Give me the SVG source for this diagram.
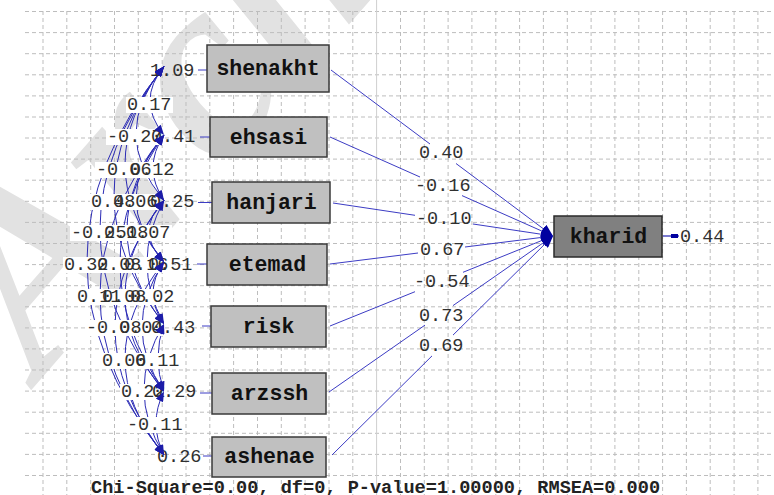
<svg xmlns="http://www.w3.org/2000/svg" width="774" height="495" viewBox="0 0 774 495">
<style>
.grid{fill:none;stroke:#bdbdbd;stroke-width:1;stroke-dasharray:4 3}
.box{fill:#c0c0c0;stroke:#3a3a3a;stroke-width:1.5}
.boxd{fill:#808080;stroke:#2a2a2a;stroke-width:1.5}
.nl{font-family:"Liberation Mono","Courier New",monospace;font-weight:bold;font-size:21.5px;fill:#111;text-anchor:middle}
.num{font-family:"Liberation Mono","Courier New",monospace;font-size:18.5px;fill:#303030}
.path{fill:none;stroke:#3c3cc4;stroke-width:1}
.arc{fill:none;stroke:#2b2bb5;stroke-width:1}
.tip{fill:none;stroke:none;marker-start:url(#ah);marker-end:url(#ah)}
.bg{fill:#ffffff}
.wm{font-family:"Liberation Serif","Times New Roman",serif;font-weight:bold;font-style:italic;font-size:260px;fill:#e2e2e2}
</style>
<defs>
<marker id="ah" viewBox="0 0 10 8" refX="10" refY="4" markerWidth="11" markerHeight="8" markerUnits="userSpaceOnUse" orient="auto-start-reverse"><path d="M0,0L10,4L0,8z" fill="#1c1ca8"/></marker>
<marker id="ahb" viewBox="0 0 12 10" refX="12" refY="5" markerWidth="12" markerHeight="10" markerUnits="userSpaceOnUse" orient="auto"><path d="M0,0L12,5L0,10z" fill="#0000a0"/></marker>
</defs>
<rect x="0" y="0" width="774" height="495" fill="#ffffff"/>
<text class="wm" transform="translate(40,380) rotate(-49)">Arch</text>
<g id="grid">
<path class="grid" d="M25 11.5H774M25 32.6H774M25 53.7H774M25 74.8H774M25 95.9H774M25 117H774M25 138H774M25 159.1H774M25 180.2H774M25 201.3H774M25 222.4H774M25 243.5H774M25 264.6H774M25 285.7H774M25 306.8H774M25 327.9H774M25 348.9H774M25 370H774M25 391.1H774M25 412.2H774M25 433.3H774M25 454.4H774M25 475.5H774"/>
<path class="grid" d="M43 11V495M66.8 11V495M90.7 11V495M114.5 11V495M138.3 11V495M162.2 11V495M186 11V495M209.8 11V495M233.6 11V495M257.5 11V495M281.3 11V495M305.1 11V495M329 11V495M352.8 11V495M400.5 11V495M424.3 11V495M448.1 11V495M471.9 11V495M495.8 11V495M519.6 11V495M543.4 11V495M567.3 11V495M591.1 11V495M614.9 11V495M638.8 11V495M662.6 11V495M686.4 11V495M710.2 11V495M734.1 11V495M757.9 11V495"/>
<path d="M376.6 0V495" stroke="#cfcfcf" stroke-width="1" fill="none"/>
</g>
<g id="covariance-arcs">
<path class="arc" d="M164,66.5 Q136,100.75 164,135"/>
<path class="arc" d="M164,66.5 Q108,133.5 164,200.5"/>
<path class="arc" d="M164,66.5 Q86,164.25 164,262"/>
<path class="arc" d="M164,66.5 Q64,195.25 164,324"/>
<path class="arc" d="M164,66.5 Q36,229 164,391.5"/>
<path class="arc" d="M164,66.5 Q10,260.75 164,455"/>
<path class="arc" d="M164,135 Q142,167.75 164,200.5"/>
<path class="arc" d="M164,135 Q108,198.5 164,262"/>
<path class="arc" d="M164,135 Q90,229.5 164,324"/>
<path class="arc" d="M164,135 Q76,263.25 164,391.5"/>
<path class="arc" d="M164,135 Q36,295 164,455"/>
<path class="arc" d="M164,200.5 Q134,231.25 164,262"/>
<path class="arc" d="M164,200.5 Q130,262.25 164,324"/>
<path class="arc" d="M164,200.5 Q86,296 164,391.5"/>
<path class="arc" d="M164,200.5 Q66,327.75 164,455"/>
<path class="arc" d="M164,262 Q142,293 164,324"/>
<path class="arc" d="M164,262 Q120,326.75 164,391.5"/>
<path class="arc" d="M164,262 Q86,358.5 164,455"/>
<path class="arc" d="M164,324 Q152,357.75 164,391.5"/>
<path class="arc" d="M164,324 Q124,389.5 164,455"/>
<path class="arc" d="M164,391.5 Q148,423.25 164,455"/>
</g>
<g id="covariance-label-bg">
<rect class="bg" x="126" y="97" width="47" height="16"/>
<rect class="bg" x="106" y="129" width="58" height="16"/>
<rect class="bg" x="95" y="162" width="58" height="16"/>
<rect class="bg" x="90" y="194" width="47" height="16"/>
<rect class="bg" x="70" y="225" width="58" height="16"/>
<rect class="bg" x="63" y="257" width="47" height="16"/>
<rect class="bg" x="129" y="162" width="47" height="16"/>
<rect class="bg" x="112" y="194" width="47" height="16"/>
<rect class="bg" x="103" y="225" width="47" height="16"/>
<rect class="bg" x="96" y="257" width="47" height="16"/>
<rect class="bg" x="76" y="289" width="47" height="16"/>
<rect class="bg" x="125" y="225" width="47" height="16"/>
<rect class="bg" x="123" y="257" width="47" height="16"/>
<rect class="bg" x="101" y="289" width="47" height="16"/>
<rect class="bg" x="85" y="320" width="58" height="16"/>
<rect class="bg" x="129" y="289" width="47" height="16"/>
<rect class="bg" x="118" y="320" width="47" height="16"/>
<rect class="bg" x="101" y="353" width="47" height="16"/>
<rect class="bg" x="134" y="353" width="47" height="16"/>
<rect class="bg" x="120" y="384" width="47" height="16"/>
<rect class="bg" x="126" y="417" width="58" height="16"/>
</g>
<g id="covariance-labels" class="num">
<text x="127" y="110">0.17</text>
<text x="107" y="142">-0.27</text>
<text x="96" y="175">-0.06</text>
<text x="91" y="207">0.48</text>
<text x="71" y="238">-0.25</text>
<text x="64" y="270">0.32</text>
<text x="130" y="175">0.12</text>
<text x="113" y="207">0.06</text>
<text x="104" y="238">0.18</text>
<text x="97" y="270">0.08</text>
<text x="77" y="302">0.11</text>
<text x="126" y="238">0.07</text>
<text x="124" y="270">0.16</text>
<text x="102" y="302">0.08</text>
<text x="86" y="333">-0.08</text>
<text x="130" y="302">0.02</text>
<text x="119" y="333">0.04</text>
<text x="102" y="366">0.06</text>
<text x="135" y="366">0.11</text>
<text x="121" y="397">0.22</text>
<text x="127" y="430">-0.11</text>
</g>
<g id="variance-labels" class="num">
<text x="150" y="76">1.09</text>
<text x="151" y="142">0.41</text>
<text x="150" y="207">0.25</text>
<text x="148" y="270">0.51</text>
<text x="151" y="333">0.43</text>
<text x="152" y="397">0.29</text>
<text x="157" y="462">0.26</text>
</g>
<g id="arrowheads">
<path class="tip" d="M164,66.5 Q136,100.75 164,135"/>
<path class="tip" d="M164,66.5 Q108,133.5 164,200.5"/>
<path class="tip" d="M164,66.5 Q86,164.25 164,262"/>
<path class="tip" d="M164,66.5 Q64,195.25 164,324"/>
<path class="tip" d="M164,66.5 Q36,229 164,391.5"/>
<path class="tip" d="M164,66.5 Q10,260.75 164,455"/>
<path class="tip" d="M164,135 Q142,167.75 164,200.5"/>
<path class="tip" d="M164,135 Q108,198.5 164,262"/>
<path class="tip" d="M164,135 Q90,229.5 164,324"/>
<path class="tip" d="M164,135 Q76,263.25 164,391.5"/>
<path class="tip" d="M164,135 Q36,295 164,455"/>
<path class="tip" d="M164,200.5 Q134,231.25 164,262"/>
<path class="tip" d="M164,200.5 Q130,262.25 164,324"/>
<path class="tip" d="M164,200.5 Q86,296 164,391.5"/>
<path class="tip" d="M164,200.5 Q66,327.75 164,455"/>
<path class="tip" d="M164,262 Q142,293 164,324"/>
<path class="tip" d="M164,262 Q120,326.75 164,391.5"/>
<path class="tip" d="M164,262 Q86,358.5 164,455"/>
<path class="tip" d="M164,324 Q152,357.75 164,391.5"/>
<path class="tip" d="M164,324 Q124,389.5 164,455"/>
<path class="tip" d="M164,391.5 Q148,423.25 164,455"/>
</g>
<g id="connectors">
<path class="path" d="M198,70H207M200,137H210M198,202.5H212M197,264H207M202,326H211M200,393H212M203,456H212"/>
<path class="path" d="M331,70L430,144"/><path class="path" d="M456,163.5L553,236" marker-end="url(#ahb)"/>
<path class="path" d="M330,137L420,177"/><path class="path" d="M462,195.6L553,236" marker-end="url(#ahb)"/>
<path class="path" d="M333,203L415,215.3"/><path class="path" d="M473,224L553,236" marker-end="url(#ahb)"/>
<path class="path" d="M330,264L418,253"/><path class="path" d="M465,247L553,236" marker-end="url(#ahb)"/>
<path class="path" d="M330,326L415,291.7"/><path class="path" d="M463,272.3L553,236" marker-end="url(#ahb)"/>
<path class="path" d="M329,392L425,325.1"/><path class="path" d="M453,305.6L553,236" marker-end="url(#ahb)"/>
<path class="path" d="M332,455L432,355.9"/><path class="path" d="M453,335.1L553,236" marker-end="url(#ahb)"/>
<path d="M663,236H679" stroke="#2020b0" stroke-width="1.2" fill="none"/>
<rect x="671" y="234" width="7" height="4" fill="#0000a0"/>
</g>
<g id="path-labels" class="num">
<text x="419" y="158">0.40</text>
<text x="415" y="191">-0.16</text>
<text x="416" y="224">-0.10</text>
<text x="420" y="255">0.67</text>
<text x="414" y="287">-0.54</text>
<text x="419" y="321">0.73</text>
<text x="419" y="351">0.69</text>
<text x="680" y="242">0.44</text>
</g>
<g id="shenakht"><rect class="box" x="207" y="45" width="122" height="47"/><text class="nl" x="268" y="75">shenakht</text></g>
<g id="ehsasi"><rect class="box" x="210" y="117" width="117" height="40"/><text class="nl" x="268.5" y="144">ehsasi</text></g>
<g id="hanjari"><rect class="box" x="212" y="182" width="118" height="41"/><text class="nl" x="271.5" y="209">hanjari</text></g>
<g id="etemad"><rect class="box" x="207" y="244" width="120" height="41"/><text class="nl" x="267.5" y="271">etemad</text></g>
<g id="risk"><rect class="box" x="211" y="306" width="115" height="41"/><text class="nl" x="268.5" y="333">risk</text></g>
<g id="arzssh"><rect class="box" x="212" y="373" width="114" height="41"/><text class="nl" x="269.5" y="400">arzssh</text></g>
<g id="ashenae"><rect class="box" x="212" y="437" width="114" height="40"/><text class="nl" x="269.5" y="463">ashenae</text></g>
<g id="kharid"><rect class="boxd" x="554" y="216" width="108" height="41"/><text class="nl" x="608.5" y="243">kharid</text></g>
<text x="91" y="493" style="font-family:'Liberation Mono','Courier New',monospace;font-weight:bold;font-size:18.6px;fill:#222">Chi-Square=0.00, df=0, P-value=1.00000, RMSEA=0.000</text>
</svg>
